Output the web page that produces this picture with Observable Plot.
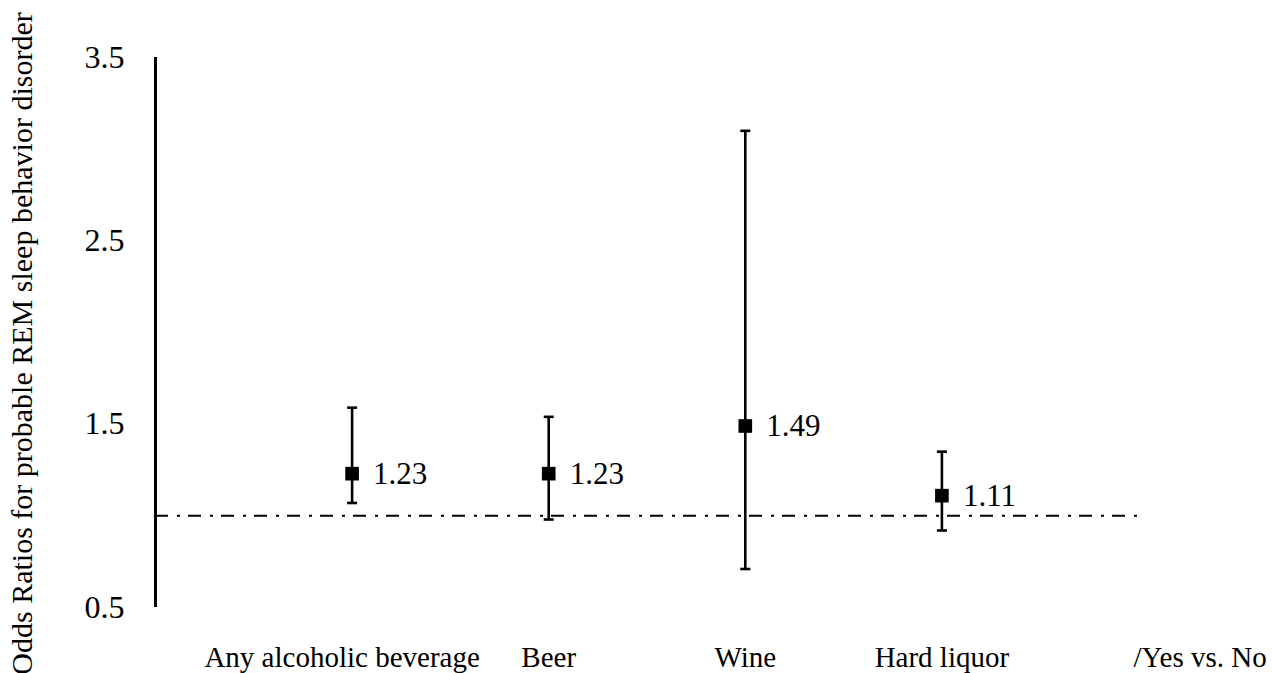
<!DOCTYPE html>
<html>
<head>
<meta charset="utf-8">
<script src="https://cdn.jsdelivr.net/npm/d3@7"></script>
<script src="https://cdn.jsdelivr.net/npm/@observablehq/plot@0.6"></script>
<style>
  html, body { margin: 0; padding: 0; background: white; }
  svg text { font-family: "Liberation Serif", "Times New Roman", serif; }
</style>
</head>
<body>
<div id="chart"></div>
<script>
const categories = ["Any alcoholic beverage", "Beer", "Wine", "Hard liquor"];
const oddsRatios = [1.23, 1.23, 1.49, 1.11];
const lowerCI = [1.07, 0.98, 0.71, 0.92];
const upperCI = [1.59, 1.54, 3.10, 1.35];
const yTicks = [0.5, 1.5, 2.5, 3.5];
const referenceValue = 1;
const comparisonLabel = "/Yes vs. No";
const yTitle = "Odds Ratios for probable REM sleep behavior disorder";

const rows = categories.map((c, i) => ({
  category: c, pos: i + 1, or: oddsRatios[i], lo: lowerCI[i], hi: upperCI[i]
}));

const capSymbol = {
  draw(ctx, size) {
    const w = Math.sqrt(size / Math.PI);
    ctx.moveTo(-w, 0);
    ctx.lineTo(w, 0);
  }
};

const serif = "Liberation Serif";

const chart = Plot.plot({
  width: 1272,
  height: 673,
  marginLeft: 155,
  marginRight: 134,
  marginTop: 57,
  marginBottom: 66,
  style: { fontFamily: serif, background: "white", color: "black", overflow: "visible" },
  x: { type: "linear", domain: [0, 5], axis: null },
  y: { domain: [0.5, 3.5], axis: null },
  marks: [
    // y axis tick labels
    Plot.axisY({
      ticks: yTicks, tickSize: 0, tickPadding: 31, fontSize: 32,
      tickFormat: d3.format(".1f"), label: null, fontFamily: serif
    }),
    // y axis line
    Plot.ruleX([0], { y1: yTicks[0], y2: yTicks[yTicks.length - 1], stroke: "black", strokeWidth: 3 }),
    // reference dash-dot line at OR = 1
    Plot.ruleY([referenceValue], { x1: 0, x2: 5, stroke: "black", strokeWidth: 2, strokeDasharray: "13,9,3,8" }),
    // error bars
    Plot.ruleX(rows, { x: "pos", y1: "lo", y2: "hi", stroke: "black", strokeWidth: 2.6 }),
    Plot.dot(rows, { x: "pos", y: "lo", symbol: capSymbol, r: 5, stroke: "black", strokeWidth: 2.6, fill: "none" }),
    Plot.dot(rows, { x: "pos", y: "hi", symbol: capSymbol, r: 5, stroke: "black", strokeWidth: 2.6, fill: "none" }),
    // point estimates
    Plot.dot(rows, { x: "pos", y: "or", symbol: "square", r: 7.7, fill: "black", stroke: "none" }),
    // value labels
    Plot.text(rows, {
      x: "pos", y: "or", text: d => d3.format(".2f")(d.or),
      textAnchor: "start", dx: 21, fontSize: 31, fill: "black", fontFamily: serif
    }),
    // category labels
    Plot.text(rows.slice(0, 1), {
      x: "pos", frameAnchor: "bottom", text: "category", dy: 59, dx: -10,
      fontSize: 29, fill: "black", fontFamily: serif
    }),
    Plot.text(rows.slice(1), {
      x: "pos", frameAnchor: "bottom", text: "category", dy: 59,
      fontSize: 29, fill: "black", fontFamily: serif
    }),
    Plot.text([comparisonLabel], {
      x: 5, frameAnchor: "bottom", text: d => d, dy: 59, dx: -5,
      textAnchor: "start", fontSize: 29, fill: "black", fontFamily: serif
    }),
    // y title
    Plot.text([yTitle], {
      frameAnchor: "left", text: d => d, rotate: -90, dx: -133, dy: 11,
      textAnchor: "middle", fontSize: 30, fill: "black", fontFamily: serif
    })
  ]
});

document.getElementById("chart").appendChild(chart);
</script>
</body>
</html>
